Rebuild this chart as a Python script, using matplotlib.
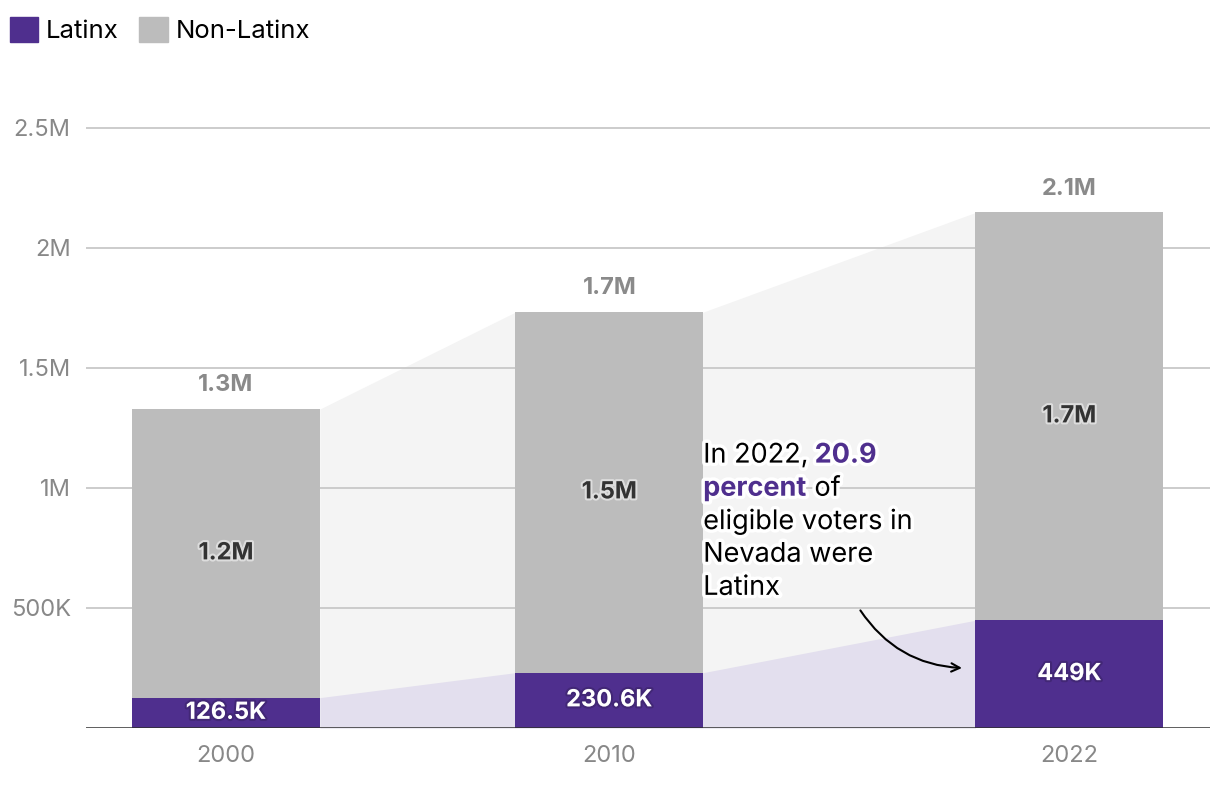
import matplotlib.pyplot as plt
import matplotlib.patheffects as pe
from matplotlib.patches import Patch
import numpy as np

plt.rcParams['font.family'] = ['Inter', 'DejaVu Sans']

# data
years = [2000, 2010, 2022]
latinx = [126500, 230600, 449000]
non_latinx = [1202500, 1502400, 1699000]
yticks = [500000, 1000000, 1500000, 2000000, 2500000]
ytick_labels = ['500K', '1M', '1.5M', '2M', '2.5M']

purple = '#4f2f8e'
gray = '#bcbcbc'
area_gray = '#f4f4f4'
lavender = '#e3dfee'
w = 4.9


def fmt(v):
    if v >= 1e6:
        s = f'{v / 1e6:.1f}'
        suf = 'M'
    else:
        s = f'{v / 1e3:.1f}'
        suf = 'K'
    if s.endswith('.0'):
        s = s[:-2]
    return s + suf


latinx = np.array(latinx)
non_latinx = np.array(non_latinx)
total = latinx + non_latinx
yrs = np.array(years)

fig = plt.figure(figsize=(12.2, 7.86), dpi=100)
ax = fig.add_axes([86 / 1220, 1 - 728 / 786, 1124 / 1220, 624 / 786])
ax.set_xlim(1996.35, 2025.67)
ax.set_ylim(0, 2.6e6)

# shaded areas between bars
ax_x = []
ax_tot = []
ax_lat = []
for i in range(len(yrs)):
    ax_x += [yrs[i] - w / 2, yrs[i] + w / 2]
    ax_tot += [total[i], total[i]]
    ax_lat += [latinx[i], latinx[i]]
ax_x, ax_tot, ax_lat = ax_x[1:-1], ax_tot[1:-1], ax_lat[1:-1]
ax.fill_between(ax_x, 0, ax_tot, color=area_gray, lw=0, zorder=0.5)
ax.fill_between(ax_x, 0, ax_lat, color=lavender, lw=0, zorder=0.6)

for t in yticks:
    ax.axhline(t, color='#c8c8c8', lw=1.3, zorder=1)
ax.axhline(0, color='#2e2e2e', lw=1.8, zorder=3)

ax.bar(yrs, latinx, width=w, color=purple, zorder=2)
ax.bar(yrs, non_latinx, width=w, bottom=latinx, color=gray, zorder=2)

for i in range(len(yrs)):
    ax.text(yrs[i], latinx[i] / 2, fmt(latinx[i]), ha='center', va='center',
            fontsize=17, fontweight='bold', color='white', zorder=4,
            path_effects=[pe.withStroke(linewidth=3, foreground='#2a1a4a', alpha=0.35)])
    ax.text(yrs[i], latinx[i] + non_latinx[i] / 2, fmt(non_latinx[i]), ha='center', va='center',
            fontsize=17, fontweight='bold', color='#333333', zorder=4,
            path_effects=[pe.withStroke(linewidth=3, foreground='white', alpha=0.5)])
    ax.annotate(fmt(total[i]), (yrs[i], total[i]), xytext=(0, 17), textcoords='offset points',
                ha='center', va='center', fontsize=17, fontweight='bold', color='#8a8a8a', zorder=4)

for s in ax.spines.values():
    s.set_visible(False)
ax.set_yticks(yticks)
ax.set_yticklabels(ytick_labels)
ax.set_xticks(years)
ax.set_xticklabels([str(y) for y in years])
ax.tick_params(length=0, labelsize=17, labelcolor='#888888')
ax.tick_params(axis='y', pad=11)
ax.tick_params(axis='x', pad=12)

# annotation
halo = [pe.withStroke(linewidth=5, foreground='white')]
tx = 2012.45
line_y = [1.135e6, 0.997e6, 0.859e6, 0.722e6, 0.584e6]
kw = dict(fontsize=19.5, va='center', ha='left', zorder=5, path_effects=halo)
t1 = ax.text(tx, line_y[0], 'In 2022,', color='black', **kw)
ax.annotate(' 20.9', xy=(1, 0.5), xycoords=t1, color=purple, fontweight='bold', **kw)
t2 = ax.text(tx, line_y[1], 'percent', color=purple, fontweight='bold', **kw)
ax.annotate(' of', xy=(1, 0.5), xycoords=t2, color='black', **kw)
ax.text(tx, line_y[2], 'eligible voters in', color='black', **kw)
ax.text(tx, line_y[3], 'Nevada were', color='black', **kw)
ax.text(tx, line_y[4], 'Latinx', color='black', **kw)

ax.annotate('', xy=(2019.2, 0.25e6), xytext=(2016.55, 0.49e6),
            arrowprops=dict(arrowstyle='->,head_length=0.6,head_width=0.3', color='black', lw=1.5,
                            connectionstyle='arc3,rad=0.25', shrinkA=0, shrinkB=0), zorder=5)

handles = [Patch(color=purple, label='Latinx'), Patch(color=gray, label='Non-Latinx')]
fig.legend(handles=handles, loc='center left', bbox_to_anchor=(10 / 1220, 1 - 30 / 786),
           frameon=False, fontsize=18.5, ncol=2, handlelength=1.1, handleheight=1.1,
           handletextpad=0.3, columnspacing=0.8, borderpad=0, borderaxespad=0)

fig.savefig('out.png', dpi=100)
